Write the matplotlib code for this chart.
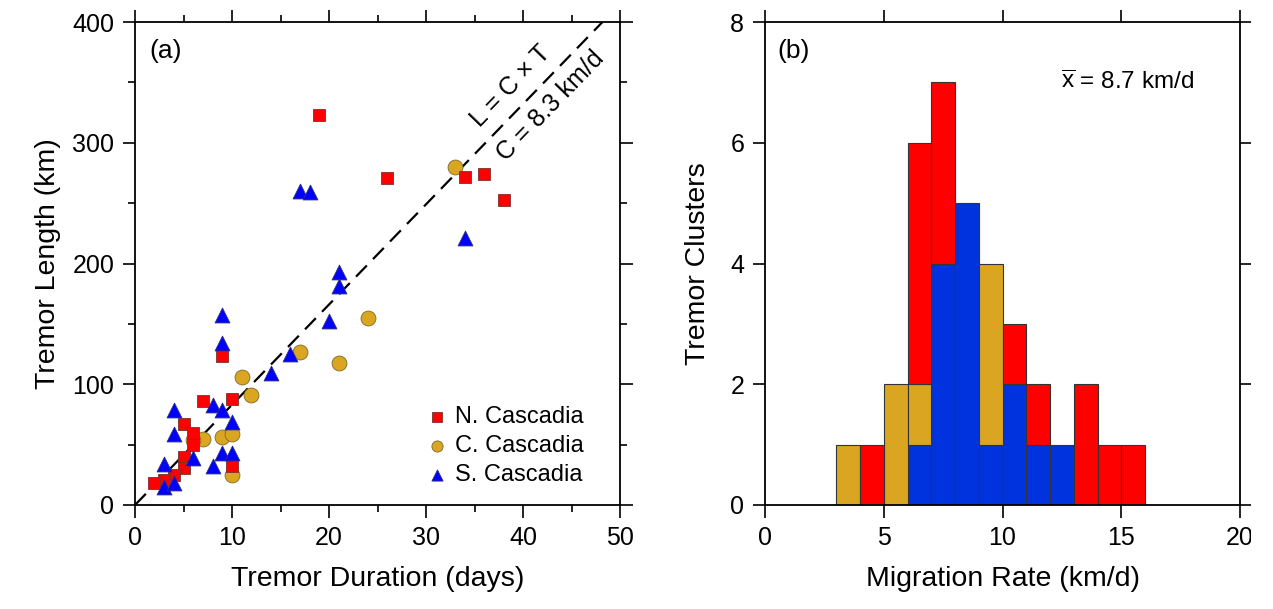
import numpy as np
import matplotlib
matplotlib.use("Agg")
import matplotlib.pyplot as plt
from matplotlib.patches import Rectangle

plt.rcParams['font.family'] = ['Liberation Sans', 'DejaVu Sans']
plt.rcParams['mathtext.fontset'] = 'custom'
plt.rcParams['mathtext.rm'] = 'Liberation Sans'
plt.rcParams['mathtext.it'] = 'Liberation Sans'

# ---- data: panel (a) ----
n_dur = [19, 26, 34, 36, 38, 9, 7, 10, 5, 6, 6, 5, 5, 4, 3, 2, 10]
n_len = [323, 271, 272, 274, 253, 123, 86, 88, 67, 60, 50, 40, 31, 25, 21, 18, 32]

c_dur = [33, 24, 17, 21, 11, 12, 7, 9, 10, 6, 10]
c_len = [280, 155, 127, 118, 106, 91, 55, 56, 59, 54, 25]

s_dur = [17, 18, 34, 21, 21, 20, 16, 14, 9, 9, 8, 9, 10, 4, 4, 6, 9, 10, 8, 3, 3, 4]
s_len = [260, 259, 221, 193, 181, 152, 125, 109, 157, 134, 83, 79, 69, 79, 59, 39, 43, 43, 32, 34, 15, 18]

rate_c = 8.3

# ---- data: panel (b) ----
bin_left = [3, 4, 5, 6, 7, 8, 9, 10, 11, 12, 13, 14, 15]
blue_cnt = [0, 0, 0, 1, 4, 5, 1, 2, 1, 1, 0, 0, 0]
gold_cnt = [1, 0, 2, 1, 0, 0, 3, 0, 0, 0, 0, 0, 0]
red_cnt = [0, 1, 0, 4, 3, 0, 0, 1, 1, 0, 2, 1, 1]

RED = '#ff0000'
GOLD = '#daa520'
BLUE = '#0000ff'
HBLUE = '#0033dd'

fig = plt.figure(figsize=(12.73, 6.09), dpi=100)
axa = fig.add_axes([135/1273, 1-505/609, (620-135)/1273, (505-22)/609])
axb = fig.add_axes([765/1273, 1-505/609, (1240-765)/1273, (505-22)/609])

TFS = 18   # tick labels
LFS = 20.5 # axis labels

def style(ax):
    for s in ax.spines.values():
        s.set_linewidth(1.3)
    ax.tick_params(which='both', direction='out', top=True, right=True,
                   labeltop=False, labelright=False, width=1.2, labelsize=TFS)
    ax.tick_params(which='major', length=9, pad=6)
    ax.tick_params(which='minor', length=5)

# ---- panel (a) ----
axa.set_xlim(0, 50)
axa.set_ylim(0, 400)
axa.set_xticks(np.arange(0, 51, 10))
axa.set_xticks(np.arange(5, 50, 10), minor=True)
axa.set_yticks(np.arange(0, 401, 100))
axa.set_yticks(np.arange(50, 400, 100), minor=True)
style(axa)

tline = np.array([0, 400 / rate_c])
axa.plot(tline, rate_c * tline, color='k', lw=1.6, dashes=(7, 4), zorder=2)

axa.scatter(c_dur, c_len, marker='o', s=115, color=GOLD, edgecolor='#7a6a30',
            linewidth=0.6, zorder=3, label='C. Cascadia')
axa.scatter(n_dur, n_len, marker='s', s=85, color=RED, edgecolor='#7a3030',
            linewidth=0.6, zorder=4, label='N. Cascadia')
axa.scatter(s_dur, s_len, marker='^', s=115, color=BLUE, edgecolor='#30307a',
            linewidth=0.6, zorder=5, label='S. Cascadia')

h, l = axa.get_legend_handles_labels()
order = [1, 0, 2]
leg = axa.legend([h[i] for i in order], [l[i] for i in order], loc='lower left',
                 bbox_to_anchor=(0.575, 0.02), frameon=False, fontsize=17,
                 handletextpad=0.15, labelspacing=0.3, markerscale=0.75,
                 handlelength=1.2, borderaxespad=0)

axa.set_xlabel('Tremor Duration (days)', fontsize=LFS, labelpad=12)
axa.set_ylabel('Tremor Length (km)', fontsize=LFS, labelpad=8)
axa.text(0.03, 0.94, '(a)', transform=axa.transAxes, fontsize=19, va='center', ha='left')

# rotated annotation along the line
p0 = axa.transData.transform((0, 0))
p1 = axa.transData.transform((40, rate_c * 40))
ang = np.degrees(np.arctan2(p1[1] - p0[1], p1[0] - p0[0]))
nx, ny = -np.sin(np.radians(ang)), np.cos(np.radians(ang))
for tval, off, txt in [(40.3, 15, 'L = C × T'), (41.3, -15, 'C = 8.3 km/d')]:
    axa.annotate(txt, xy=(tval, rate_c * tval), xytext=(off * nx, off * ny),
                 textcoords='offset points', rotation=ang, rotation_mode='anchor',
                 ha='center', va='center', fontsize=18)

# ---- panel (b) ----
axb.set_xlim(0, 20)
axb.set_ylim(0, 8)
axb.set_xticks(np.arange(0, 21, 5))
axb.set_yticks(np.arange(0, 9, 2))
style(axb)

bl = np.array(bin_left, dtype=float)
b1 = np.array(blue_cnt)
b2 = np.array(gold_cnt)
b3 = np.array(red_cnt)
ec = '#333333'
m1 = b1 > 0
axb.bar(bl[m1], b1[m1], width=1, align='edge', color=HBLUE, edgecolor=ec, linewidth=0.8, zorder=2)
m2 = b2 > 0
axb.bar(bl[m2], b2[m2], bottom=b1[m2], width=1, align='edge', color=GOLD, edgecolor=ec, linewidth=0.8, zorder=2)
m3 = b3 > 0
axb.bar(bl[m3], b3[m3], bottom=(b1 + b2)[m3], width=1, align='edge', color=RED, edgecolor=ec, linewidth=0.8, zorder=2)

axb.set_xlabel('Migration Rate (km/d)', fontsize=LFS, labelpad=12)
axb.set_ylabel('Tremor Clusters', fontsize=LFS, labelpad=14)
axb.text(0.027, 0.94, '(b)', transform=axb.transAxes, fontsize=19, va='center', ha='left')
axb.text(0.623, 0.875, r'$\overline{\mathrm{x}}$ = 8.7 km/d', transform=axb.transAxes,
         fontsize=17.5, va='center', ha='left')

# right edge of the reference is cropped
fig.patches.append(Rectangle((1251/1273, 0), 22/1273, 1, transform=fig.transFigure,
                             facecolor='white', edgecolor='none', zorder=100))

fig.savefig('out.png', dpi=100)
